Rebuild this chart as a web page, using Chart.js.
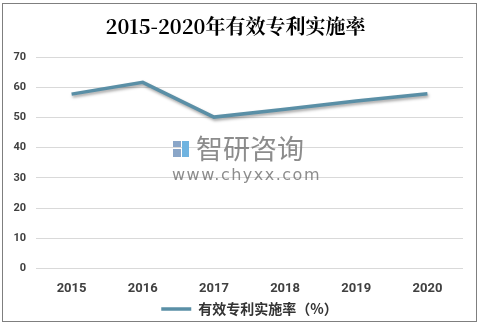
<!DOCTYPE html>
<html>
<head>
<meta charset="utf-8">
<script src="https://cdn.jsdelivr.net/npm/chart.js@4/dist/chart.umd.min.js"></script>
<style>
  html, body { margin: 0; padding: 0; background: #fff; }
  #wrap { width: 481px; height: 326px; position: relative; }
</style>
</head>
<body>
<div id="wrap"><canvas id="chart" width="481" height="326"></canvas></div>
<script>
// Data
const YEARS = ['2015', '2016', '2017', '2018', '2019', '2020'];
const RATE = [57.7, 61.6, 50.1, 52.7, 55.4, 57.8];
const SERIES_LABEL = '有效专利实施率（%）';
const TITLE = '2015-2020年有效专利实施率';

const LINE_COLOR = '#5a8fa6';
const TICK_COLOR = '#404040';
const GRID_COLOR = '#d9d9d9';

// Outer frame, soft line shadow and faint watermark
const frame = {
  id: 'frame',
  afterLayout(chart) {
    // nudge the legend to sit where the original has it
    const l = chart.legend;
    if (l) { l.left += 14; l.right += 14; }
  },
  beforeDraw(chart) {
    const ctx = chart.ctx;
    ctx.save();
    ctx.fillStyle = '#fff';
    ctx.fillRect(0, 0, chart.width, chart.height);
    ctx.strokeStyle = '#7f7f7f';
    ctx.lineWidth = 1;
    ctx.strokeRect(2.5, 3.5, 474, 318);
    ctx.restore();
  },
  beforeDatasetsDraw(chart) {
    const ctx = chart.ctx;
    ctx.save();
    ctx.shadowColor = 'rgba(0,0,0,0.35)';
    ctx.shadowBlur = 3;
    ctx.shadowOffsetX = 1;
    ctx.shadowOffsetY = 2;
  },
  afterDatasetsDraw(chart) {
    const ctx = chart.ctx;
    ctx.restore();
    ctx.save();
    // small logo blocks
    ctx.fillStyle = '#8aa6c8';
    ctx.fillRect(173, 141, 8, 6);
    ctx.fillRect(173, 149, 8, 8);
    ctx.fillStyle = '#6fb3e0';
    ctx.fillRect(182, 141, 7, 16);
    ctx.fillStyle = 'rgba(120,120,120,0.85)';
    ctx.font = '27px "Noto Sans CJK SC"';
    ctx.textBaseline = 'middle';
    ctx.fillText('智研咨询', 196, 149);
    ctx.font = '16px "DejaVu Sans"';
    ctx.letterSpacing = '1.5px';
    ctx.fillText('www.chyxx.com', 172, 176);
    ctx.restore();
  }
};

new Chart(document.getElementById('chart'), {
  type: 'line',
  data: {
    labels: YEARS,
    datasets: [{
      label: SERIES_LABEL,
      data: RATE,
      borderColor: LINE_COLOR,
      backgroundColor: LINE_COLOR,
      borderWidth: 3.5,
      pointRadius: 0,
      tension: 0,
      fill: false,
    }]
  },
  options: {
    responsive: false,
    animation: false,
    layout: { padding: { left: 8, right: 18, top: 0, bottom: 0 } },
    plugins: {
      title: {
        display: true,
        text: TITLE,
        color: '#000',
        font: { family: '"Noto Serif CJK SC", "DejaVu Serif", serif', size: 20, weight: 'bold' },
        padding: { top: 14, bottom: 19 }
      },
      legend: {
        position: 'bottom',
        labels: {
          color: '#333',
          usePointStyle: true,
          pointStyle: 'line',
          pointStyleWidth: 30,
          boxHeight: 14,
          padding: 0,
          font: { family: '"Noto Sans CJK SC"', size: 14, weight: 'bold' }
        }
      },
      tooltip: { enabled: false }
    },
    scales: {
      x: {
        offset: true,
        grid: { display: false },
        border: { display: false },
        ticks: { color: TICK_COLOR, font: { family: 'Roboto, "DejaVu Sans"', size: 13, weight: 'bold' }, padding: 5 }
      },
      y: {
        min: 0,
        max: 70,
        afterFit(scale) { scale.width = 28; },
        grid: { color: GRID_COLOR, drawTicks: false },
        border: { display: false },
        ticks: { stepSize: 10, color: TICK_COLOR, font: { family: 'Roboto, "DejaVu Sans"', size: 11, weight: 'bold' }, padding: 10 }
      }
    }
  },
  plugins: [frame]
});
</script>
</body>
</html>
